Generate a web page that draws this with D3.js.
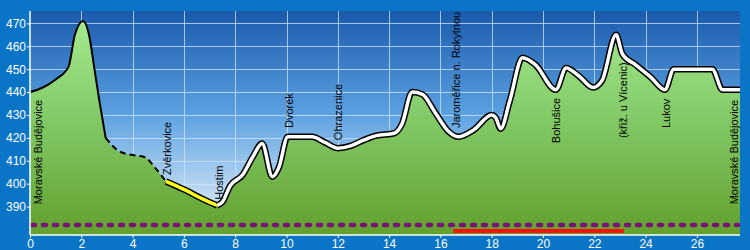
<!DOCTYPE html>
<html>
<head>
<meta charset="utf-8">
<script src="https://cdn.jsdelivr.net/npm/d3@7"></script>
<style>
  html, body { margin: 0; padding: 0; background: #0a74c6; }
  svg { display: block; font-family: Arial, "Liberation Sans", sans-serif; }
</style>
</head>
<body>
<div id="chart"></div>
<script>
// --- données du profil (km, altitude) ---
const profileKm  = [0, 0.5, 1, 1.5, 1.75, 2.07, 2.3, 2.5, 2.7, 2.95, 3.5, 4.0, 4.5, 4.8, 5.3, 6.0, 6.7, 7.3, 7.5, 7.8, 8.3, 8.7, 9.05, 9.45, 9.7, 10.05, 11.0, 11.5, 12.0, 12.5, 13.0, 13.5, 14.2, 14.5, 14.9, 15.3, 15.8, 16.3, 16.7, 17.3, 18.0, 18.15, 18.35, 18.7, 19.2, 19.7, 20.5, 20.9, 21.4, 21.95, 22.3, 22.85, 23.1, 23.6, 24.2, 24.75, 25.1, 26.6, 27.0, 27.68];
const profileAlt = [440, 442, 445.5, 451, 465, 471, 465, 451, 436.5, 420, 414, 412.5, 411.5, 408, 401, 397.5, 393.5, 390.5, 392, 399, 404, 412, 417.5, 403, 407, 420.5, 420.5, 418, 415.5, 416.5, 419, 421, 422, 426, 440, 439, 431, 423, 420.5, 423.5, 430, 429, 424, 436, 455, 452, 441, 450.5, 447, 442, 445, 465, 456.5, 452, 446.5, 441, 450, 450, 441, 441];

// tronçons du tracé (km de début, km de fin, style)
const segStart = [0, 2.95, 5.3, 7.3];
const segEnd   = [2.95, 5.3, 7.3, 27.68];
const segStyle = ["solid", "dashed", "yellow", "white"];

// étiquettes des lieux (km, altitude au pied du texte)
const placeNames = ["Moravské Budějovice", "Zvěrkovice", "Hostim", "Dvorek", "Ohrazenice", "Jaroměřice n. Rokytnou", "Bohušice", "(křiž. u Vícenic)", "Lukov", "Moravské Budějovice"];
const placeKm    = [0.3, 5.35, 7.35, 10.1, 12.0, 16.6, 20.5, 23.1, 24.8, 27.45];
const placeAlt   = [391, 403.8, 393, 424.3, 419, 424.3, 417.7, 419.9, 424.3, 391];

// lignes de parcours sous le profil
const purpleRoute = { from: 0, to: 27.68, alt: 382 };
const redRoute    = { from: 16.5, to: 23.15, alt: 379.4 };

const xTicks = d3.range(0, 27, 2);
const yTicks = d3.range(390, 471, 10);

// --- dimensions ---
const W = 750, H = 250;
const plot = { left: 30, right: 740, top: 11, bottom: 235 };

const x = d3.scaleLinear().domain([0, 27.68]).range([plot.left, plot.right]);
const y = d3.scaleLinear().domain([377.6, 475.4]).range([plot.bottom, plot.top]);

const svg = d3.select("#chart").append("svg").attr("width", W).attr("height", H);

const defs = svg.append("defs");
const sky = defs.append("linearGradient").attr("id", "sky")
    .attr("gradientUnits", "userSpaceOnUse")
    .attr("x1", 0).attr("y1", plot.top).attr("x2", 0).attr("y2", plot.bottom);
sky.append("stop").attr("offset", "0%").attr("stop-color", "#1a5aac");
sky.append("stop").attr("offset", "45%").attr("stop-color", "#5aa0e0");
sky.append("stop").attr("offset", "100%").attr("stop-color", "#f2f8fd");

const ground = defs.append("linearGradient").attr("id", "ground")
    .attr("gradientUnits", "userSpaceOnUse")
    .attr("x1", 0).attr("y1", plot.top).attr("x2", 0).attr("y2", plot.bottom);
ground.append("stop").attr("offset", "0%").attr("stop-color", "#a8ec92");
ground.append("stop").attr("offset", "45%").attr("stop-color", "#84cc6a");
ground.append("stop").attr("offset", "100%").attr("stop-color", "#62a02e");

// fond du graphique
svg.append("rect")
    .attr("x", plot.left).attr("y", plot.top)
    .attr("width", plot.right - plot.left).attr("height", plot.bottom - plot.top)
    .attr("fill", "url(#sky)");

// grille
const grid = svg.append("g").attr("stroke", "#cfe6fb").attr("stroke-opacity", 0.75).attr("stroke-width", 1);
grid.selectAll(".gx").data(xTicks.filter(d => d > 0)).join("line")
    .attr("x1", d => Math.round(x(d)) + 0.5).attr("x2", d => Math.round(x(d)) + 0.5)
    .attr("y1", plot.top).attr("y2", plot.bottom);
grid.selectAll(".gy").data(yTicks).join("line")
    .attr("x1", plot.left).attr("x2", plot.right)
    .attr("y1", d => Math.round(y(d)) + 0.5).attr("y2", d => Math.round(y(d)) + 0.5);

// surface du terrain
const pts = profileKm.map((k, i) => ({ km: k, alt: profileAlt[i] }));
const area = d3.area().curve(d3.curveMonotoneX).x(d => x(d.km)).y0(plot.bottom).y1(d => y(d.alt));
svg.append("path").datum(pts).attr("d", area).attr("fill", "url(#ground)");

// tracé par tronçons
const line = d3.line().curve(d3.curveMonotoneX).x(d => x(d.km)).y(d => y(d.alt));
function altAt(k) {
    const i = d3.bisector(d => d.km).left(pts, k);
    if (i <= 0) return pts[0].alt;
    if (i >= pts.length) return pts[pts.length - 1].alt;
    const p0 = pts[i - 1], p1 = pts[i];
    return p0.alt + (p1.alt - p0.alt) * (k - p0.km) / (p1.km - p0.km);
}
function segPoints(a, b) {
    const out = [{ km: a, alt: altAt(a) }];
    pts.forEach(p => { if (p.km > a && p.km < b) out.push(p); });
    out.push({ km: b, alt: altAt(b) });
    return out;
}
const route = svg.append("g").attr("fill", "none").attr("stroke-linejoin", "round");
segStyle.forEach((s, i) => {
    const d = line(segPoints(segStart[i], segEnd[i]));
    if (s === "solid") {
        route.append("path").attr("d", d).attr("stroke", "#000").attr("stroke-width", 2);
    } else if (s === "dashed") {
        route.append("path").attr("d", d).attr("stroke", "#000").attr("stroke-width", 2).attr("stroke-dasharray", "6 4");
    } else {
        route.append("path").attr("d", d).attr("stroke", "#000").attr("stroke-width", 6.5);
        route.append("path").attr("d", d).attr("stroke", s === "yellow" ? "#ffff1a" : "#fff").attr("stroke-width", 3.5);
    }
});

// lignes de parcours
svg.append("line")
    .attr("x1", x(purpleRoute.from) + 2).attr("x2", x(purpleRoute.to) - 2)
    .attr("y1", y(purpleRoute.alt)).attr("y2", y(purpleRoute.alt))
    .attr("stroke", "#7a1278").attr("stroke-width", 4.5)
    .attr("stroke-linecap", "round").attr("stroke-dasharray", "3 8");
svg.append("line")
    .attr("x1", x(redRoute.from)).attr("x2", x(redRoute.to))
    .attr("y1", y(redRoute.alt)).attr("y2", y(redRoute.alt))
    .attr("stroke", "#ff1010").attr("stroke-width", 4);

// étiquettes
svg.append("g").selectAll("text").data(placeNames).join("text")
    .attr("transform", (d, i) => `translate(${x(placeKm[i]) + 4},${y(placeAlt[i])}) rotate(-90)`)
    .attr("font-size", 11).attr("fill", "#000")
    .text(d => d);

// axes
const xAxis = svg.append("g").attr("transform", `translate(0,${plot.bottom})`)
    .call(d3.axisBottom(x).tickValues(xTicks).tickSize(3).tickPadding(1));
const yAxis = svg.append("g").attr("transform", `translate(${plot.left},0)`)
    .call(d3.axisLeft(y).tickValues(yTicks).tickSize(3).tickPadding(1));
[xAxis, yAxis].forEach(g => {
    g.select(".domain").attr("stroke", "#fff").attr("stroke-width", 1.5);
    g.selectAll(".tick line").attr("stroke", "#fff");
    g.selectAll(".tick text").attr("fill", "#fff").attr("font-size", 12)
        .attr("font-family", "Arial, 'Liberation Sans', sans-serif");
});
yAxis.select(".domain").attr("d", `M0,${plot.top}V${plot.bottom}`);
xAxis.select(".domain").attr("d", `M${plot.left},0H${plot.right}`);
</script>
</body>
</html>
